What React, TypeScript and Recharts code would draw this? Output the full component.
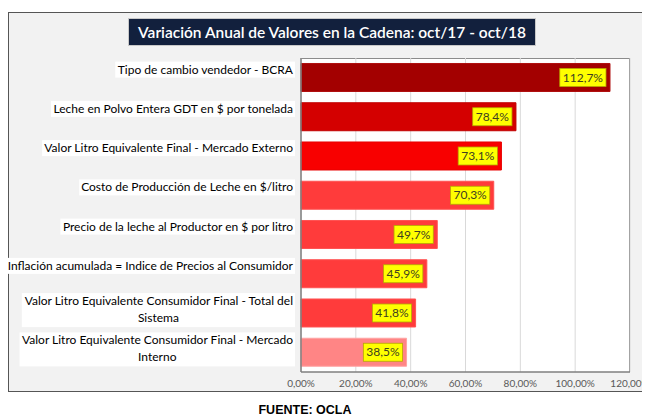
import React from 'react';
import { BarChart, Bar, XAxis, YAxis, CartesianGrid, Cell, LabelList } from 'recharts';

const categories: string[][] = [
  ['Tipo de cambio vendedor - BCRA'],
  ['Leche en Polvo Entera GDT en $ por tonelada'],
  ['Valor Litro Equivalente Final - Mercado Externo'],
  ['Costo de Producción de Leche en $/litro'],
  ['Precio de la leche al Productor en $ por litro'],
  ['Inflación acumulada = Indice de Precios al Consumidor'],
  ['Valor Litro Equivalente Consumidor Final - Total del', 'Sistema'],
  ['Valor Litro Equivalente Consumidor Final - Mercado', 'Interno'],
];
const values: number[] = [112.7, 78.4, 73.1, 70.3, 49.7, 45.9, 41.8, 38.5];
const barColors: string[] = ['#a30000', '#d40000', '#f80000', '#ff3b3b', '#ff3b3b', '#ff3b3b', '#ff3b3b', '#ff8585'];
const barStrokes: string[] = ['#b01010', '#c00000', '#e80000', '#ff5252', '#ff5252', '#ff5252', '#ff5252', '#ffa3a3'];
const xTicks: number[] = [0, 20, 40, 60, 80, 100, 120];

const data = categories.map((c, i) => ({ name: c.join('\n'), value: values[i] }));

const FONT = 'Lato, "Open Sans", sans-serif';

let ctx: CanvasRenderingContext2D | null = null;
function measure(text: string, font: string): number {
  if (!ctx) {
    const c = document.createElement('canvas');
    ctx = c.getContext('2d');
  }
  if (!ctx) return text.length * 6;
  ctx.font = font;
  return ctx.measureText(text).width;
}

const fmtPct = (v: number) => v.toFixed(1).replace('.', ',') + '%';
const fmtTick = (v: number) => v.toFixed(2).replace('.', ',') + '%';

const CatTick = (props: any) => {
  const { x, y, payload } = props;
  const lines: string[] = String(payload.value).split('\n');
  const fs = 12;
  const font = `${fs}px Lato`;
  const right = x;
  if (lines.length === 1) {
    const w = measure(lines[0], font);
    const cy = y - 8;
    return (
      <g>
        <rect x={right - w - 2} y={cy - 8} width={w + 4} height={16} fill="#ffffff" />
        <text x={right} y={cy + 4} textAnchor="end" fontSize={fs} fontFamily={FONT} fill="#000">
          {lines[0]}
        </text>
      </g>
    );
  }
  const w0 = measure(lines[0], font);
  const cx = right - w0 / 2;
  const top = y - 12;
  return (
    <g>
      <rect x={right - w0 - 2} y={top - 8} width={w0 + 4} height={34} fill="#ffffff" />
      <text x={right} y={top + 4} textAnchor="end" fontSize={fs} fontFamily={FONT} fill="#000">
        {lines[0]}
      </text>
      <text x={cx} y={top + 21} textAnchor="middle" fontSize={fs} fontFamily={FONT} fill="#000">
        {lines[1]}
      </text>
    </g>
  );
};

const ValueLabel = (props: any) => {
  const { x, y, width, height, value } = props;
  const txt = fmtPct(Number(value));
  const fs = 12;
  const w = measure(txt, `${fs}px Lato`) + 6;
  const h = 18;
  const rx = x + width - 4 - w;
  const ry = y + height / 2 - h / 2;
  return (
    <g>
      <rect x={rx} y={ry} width={w} height={h} fill="#ffff00" stroke="#b5a800" strokeWidth={0.8} />
      <text x={rx + w / 2} y={ry + h / 2 + 4.2} textAnchor="middle" fontSize={fs} fontFamily={FONT} fill="#404020">
        {txt}
      </text>
    </g>
  );
};

export default function App() {
  const W = 642;
  const H = 411;
  const plot = { left: 293, top: 50, width: 329, height: 314 };
  return (
    <div style={{ position: 'relative', width: W, height: H, overflow: 'hidden', fontFamily: FONT }}>
      <div
        style={{
          position: 'absolute',
          left: 0,
          top: 4,
          width: 700,
          height: 380,
          background: '#f2f2f2',
          border: '1.5px solid #555555',
          boxSizing: 'border-box',
        }}
      />
      <div
        style={{
          position: 'absolute',
          left: plot.left,
          top: plot.top,
          width: plot.width,
          height: plot.height,
          background: '#ffffff',
          borderTop: '1px solid #8c8c8c',
          borderRight: '1.5px solid #6e6e6e',
          boxSizing: 'border-box',
        }}
      />
      <div
        style={{
          position: 'absolute',
          left: 121,
          top: 11,
          width: 406,
          height: 26,
          background: '#12203d',
          color: '#ffffff',
          fontSize: 15.5,
          fontFamily: FONT,
          fontWeight: 600,
          lineHeight: '26px',
          textAlign: 'center',
          whiteSpace: 'nowrap',
          boxShadow: '0 0 0 1px #c8c8c8',
        }}
      >
        Variación Anual de Valores en la Cadena: oct/17 - oct/18
      </div>
      <div style={{ position: 'absolute', left: 0, top: 0 }}>
        <BarChart
          width={W}
          height={H}
          data={data}
          layout="vertical"
          margin={{ top: plot.top, right: W - plot.left - plot.width, bottom: 17, left: 0 }}
          barCategoryGap="14%"
        >
          <CartesianGrid horizontal={false} vertical={true} stroke="#d9d9d9" strokeWidth={1} />
          <XAxis
            type="number"
            domain={[0, 120]}
            ticks={xTicks}
            tickFormatter={fmtTick}
            axisLine={{ stroke: '#7f7f7f', strokeWidth: 1.5 }}
            tickLine={false}
            tickSize={0}
            tick={{ fontSize: 10, fill: '#595959', fontFamily: FONT }}
            tickMargin={8}
            height={30}
            interval={0}
          />
          <YAxis
            type="category"
            dataKey="name"
            width={plot.left}
            axisLine={{ stroke: '#7f7f7f', strokeWidth: 1.5 }}
            tickLine={false}
            tickSize={0}
            tickMargin={8}
            tick={<CatTick />}
            interval={0}
          />
          <Bar dataKey="value" isAnimationActive={false} strokeWidth={1}>
            {data.map((_, i) => (
              <Cell key={i} fill={barColors[i]} stroke={barStrokes[i]} />
            ))}
            <LabelList dataKey="value" content={<ValueLabel />} />
          </Bar>
        </BarChart>
      </div>
      <div
        style={{
          position: 'absolute',
          left: 0,
          top: 395,
          width: 594,
          textAlign: 'center',
          fontFamily: 'Liberation Sans, Arial, sans-serif',
          fontWeight: 'bold',
          fontSize: 12.5,
          color: '#000',
        }}
      >
        FUENTE: OCLA
      </div>
    </div>
  );
}
